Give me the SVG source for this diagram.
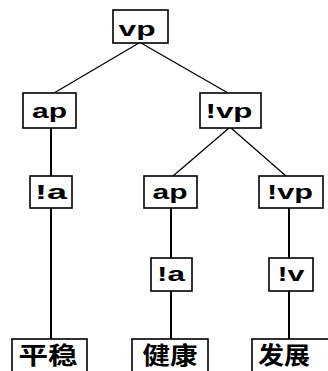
<svg xmlns="http://www.w3.org/2000/svg" width="328" height="371" viewBox="0 0 328 371">
<style>
.box{fill:#fff;stroke:#000;stroke-width:1.6}
.lbl{font-family:"Liberation Sans",Arial,sans-serif;font-weight:bold;font-size:21px;fill:#000;text-anchor:middle}
.zh{font-family:"Noto Sans CJK SC","Noto Sans CJK JP",sans-serif;font-weight:bold;font-size:24px;fill:#000;text-anchor:middle}
.edge{stroke:#000;stroke-width:1.3;fill:none}
.vert{stroke:#000;stroke-width:2;fill:none}
</style>
<rect width="328" height="371" fill="#fff"/>
<g id="connectors">
<line class="edge" x1="139" y1="43" x2="54" y2="93"/>
<line class="edge" x1="141" y1="43" x2="228" y2="93"/>
<line class="edge" x1="229" y1="128" x2="173" y2="176"/>
<line class="edge" x1="231" y1="128" x2="286" y2="176"/>
<line class="vert" x1="51" y1="128" x2="51" y2="176"/>
<line class="vert" x1="51" y1="208" x2="51" y2="339"/>
<line class="vert" x1="171" y1="208" x2="171" y2="258"/>
<line class="vert" x1="171" y1="291" x2="171" y2="339"/>
<line class="vert" x1="289" y1="208" x2="289" y2="258"/>
<line class="vert" x1="289" y1="291" x2="289" y2="339"/>
</g>
<g id="n_vp"><rect class="box" x="113" y="10" width="55" height="33"/><text class="lbl" x="137" y="36" textLength="37" lengthAdjust="spacingAndGlyphs">vp</text></g>
<g id="n_ap1"><rect class="box" x="23" y="93" width="53" height="35"/><text class="lbl" x="49.5" y="118" textLength="35" lengthAdjust="spacingAndGlyphs">ap</text></g>
<g id="n_vp2"><rect class="box" x="200" y="93" width="61" height="35"/><text class="lbl" x="229" y="118" textLength="47" lengthAdjust="spacingAndGlyphs">!vp</text></g>
<g id="n_a1"><rect class="box" x="30" y="176" width="42" height="32"/><text class="lbl" x="51" y="199" textLength="32" lengthAdjust="spacingAndGlyphs">!a</text></g>
<g id="n_ap2"><rect class="box" x="144" y="176" width="53" height="32"/><text class="lbl" x="170" y="199" textLength="35" lengthAdjust="spacingAndGlyphs">ap</text></g>
<g id="n_vp3"><rect class="box" x="259" y="176" width="64" height="32"/><text class="lbl" x="290" y="199" textLength="46" lengthAdjust="spacingAndGlyphs">!vp</text></g>
<g id="n_a2"><rect class="box" x="151" y="258" width="41" height="33"/><text class="lbl" x="171" y="281" textLength="28" lengthAdjust="spacingAndGlyphs">!a</text></g>
<g id="n_v"><rect class="box" x="269" y="258" width="44" height="33"/><text class="lbl" x="291" y="281" textLength="27" lengthAdjust="spacingAndGlyphs">!v</text></g>
<g id="n_pingwen"><rect class="box" x="12" y="339" width="75" height="40"/><text class="zh" x="48" y="364" textLength="59" lengthAdjust="spacingAndGlyphs">平稳</text></g>
<g id="n_jiankang"><rect class="box" x="132" y="339" width="76" height="40"/><text class="zh" x="170" y="364" textLength="55" lengthAdjust="spacingAndGlyphs">健康</text></g>
<g id="n_fazhan"><rect class="box" x="252" y="339" width="80" height="40"/><text class="zh" x="284" y="364" textLength="52" lengthAdjust="spacingAndGlyphs">发展</text></g>
</svg>
